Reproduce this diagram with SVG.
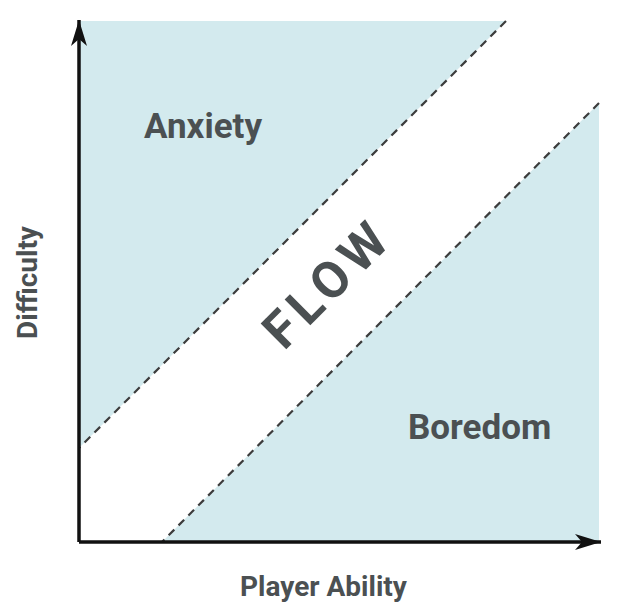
<svg xmlns="http://www.w3.org/2000/svg" width="636" height="608" viewBox="0 0 636 608">
<style>
.zone{fill:#d3eaee;}
.edge{fill:none;stroke:#3c3c3c;stroke-width:2.2;stroke-dasharray:8 6;}
.axis{fill:none;stroke:#111;stroke-width:3.5;}
.lbl{font-family:Roboto,"Liberation Sans",sans-serif;font-weight:bold;fill:#4b5052;}
</style>
<defs>
<marker id="ah" markerUnits="userSpaceOnUse" markerWidth="32" markerHeight="20" refX="28" refY="10" orient="auto" viewBox="0 0 32 20">
<path d="M28,10 L2,2 L9,10 L2,18 Z" fill="#111"/>
</marker>
</defs>
<rect width="636" height="608" fill="#fff"/>
<g id="anxiety">
<polygon class="zone" points="79,21 506,21 79,448"/>
<text class="lbl" x="144" y="138" font-size="35">Anxiety</text>
</g>
<g id="boredom">
<polygon class="zone" points="599,103 599,542 162,542"/>
<text class="lbl" x="408" y="439" font-size="35">Boredom</text>
</g>
<g id="flow">
<text class="lbl" x="0" y="18" font-size="51" letter-spacing="6" text-anchor="middle" transform="translate(327,283) rotate(-45)">FLOW</text>
</g>
<g id="connectors">
<line class="edge" x1="506" y1="21" x2="79" y2="448"/>
<line class="edge" x1="599" y1="103" x2="162" y2="542"/>
<line class="axis" x1="79" y1="542" x2="79" y2="20" marker-end="url(#ah)"/>
<line class="axis" x1="79" y1="542" x2="601" y2="542" marker-end="url(#ah)"/>
</g>
<g id="axis-labels">
<text class="lbl" x="323.5" y="596" font-size="28" text-anchor="middle">Player Ability</text>
<text class="lbl" x="0" y="0" font-size="28" text-anchor="middle" transform="translate(37,282.5) rotate(-90)">Difficulty</text>
</g>
</svg>
